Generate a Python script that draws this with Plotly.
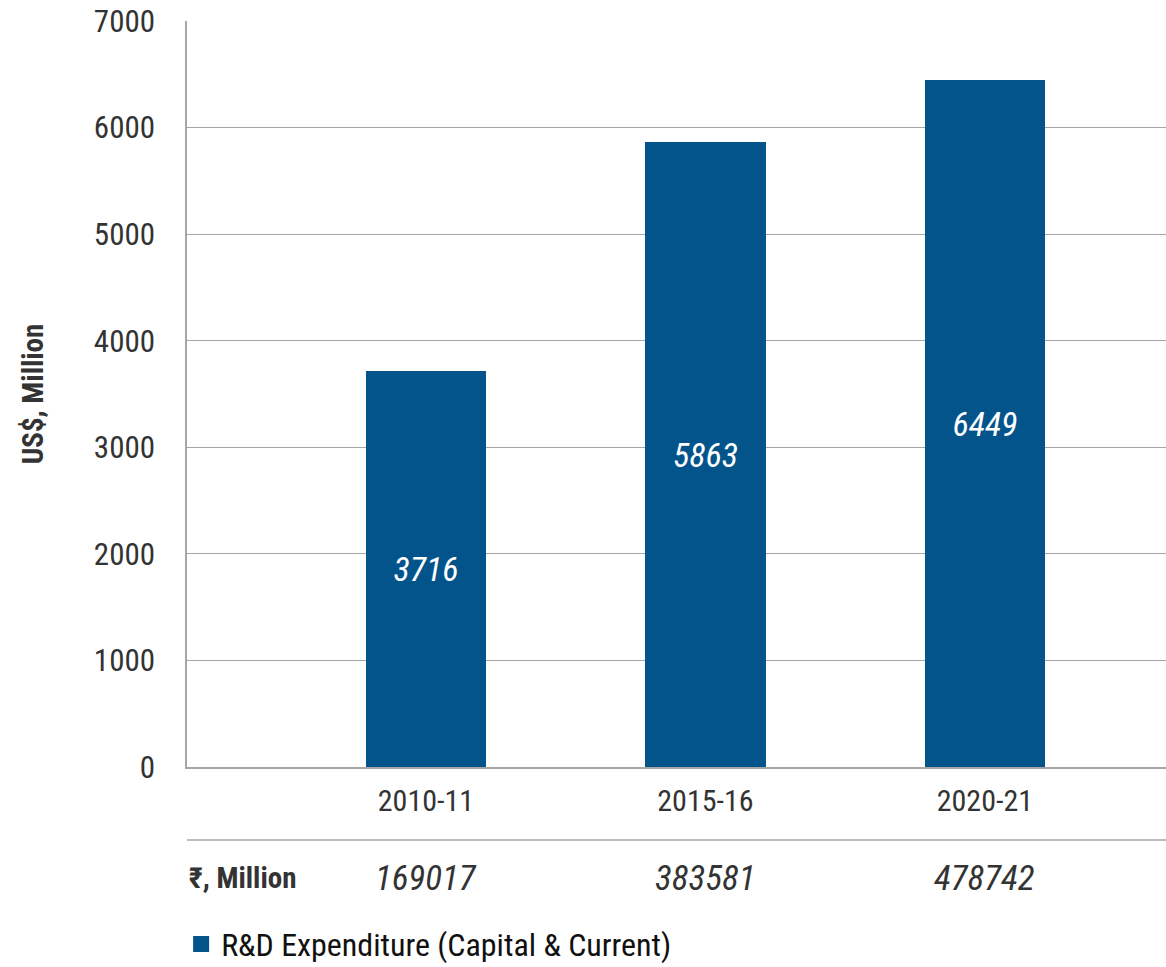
import plotly.graph_objects as go

categories = ["2010-11", "2015-16", "2020-21"]
usd_million = [3716, 5863, 6449]
inr_million = [169017, 383581, 478742]
y_ticks = [0, 1000, 2000, 3000, 4000, 5000, 6000, 7000]
series_name = "R&D Expenditure (Capital & Current)"
y_title = "US$, Million"
row_label = "₹, Million"

FONT = "Roboto Condensed, Liberation Sans Narrow, DejaVu Sans Condensed, sans-serif"
TXT = "#333333"
BAR = "#04548C"
GRID = "#A6A6A6"

fig = go.Figure()
fig.add_trace(go.Bar(
    x=categories, y=usd_million, name=series_name,
    marker=dict(color=BAR, line=dict(width=0)),
    width=0.43,
    text=[str(v) for v in usd_million],
    textposition="inside", insidetextanchor="middle",
    textfont=dict(family=FONT, size=34, color="white", style="italic"),
    showlegend=False,
))
# legend entry
fig.add_trace(go.Scatter(
    x=[None], y=[None], mode="markers", name=series_name,
    marker=dict(symbol="square", size=20, color=BAR),
    showlegend=True, hoverinfo="skip",
))

annotations = [
    dict(text=f"<b>{y_title}</b>", xref="paper", yref="paper",
         x=-0.157, y=0.5, textangle=-90, showarrow=False,
         xanchor="center", yanchor="middle",
         font=dict(family=FONT, size=29, color=TXT)),
    dict(text=f"<b>{row_label}</b>", xref="paper", yref="paper",
         x=0, y=-0.1488, showarrow=False, xanchor="left", yanchor="middle",
         font=dict(family=FONT, size=29, color=TXT)),
]
for c, v in zip(categories, inr_million):
    annotations.append(dict(
        text=str(v), xref="x", yref="paper", x=c, y=-0.1488,
        showarrow=False, xanchor="center", yanchor="middle",
        font=dict(family=FONT, size=35, color=TXT, style="italic")))

fig.update_layout(
    width=1166, height=967,
    margin=dict(l=187, r=0, t=21, b=200, autoexpand=False),
    paper_bgcolor="white", plot_bgcolor="white",
    font=dict(family=FONT, color=TXT),
    xaxis=dict(
        type="category", range=[-0.855, 2.648],
        showgrid=False, showline=True, linecolor=GRID, linewidth=1.5,
        ticks="", tickfont=dict(family=FONT, size=30, color=TXT),
        ticklabelstandoff=6, zeroline=False,
    ),
    yaxis=dict(
        range=[0, 7000], tickvals=y_ticks,
        showgrid=True, gridcolor=GRID, gridwidth=1.2,
        showline=True, linecolor=GRID, linewidth=1.5,
        ticks="", tickfont=dict(family=FONT, size=31, color=TXT),
        ticklabelstandoff=24, zeroline=False,
    ),
    shapes=[dict(type="line", xref="paper", yref="paper",
                 x0=0, x1=1, y0=-0.0979, y1=-0.0979,
                 line=dict(color=GRID, width=1.5))],
    annotations=annotations,
    legend=dict(orientation="h", x=-0.006, y=-0.2375, xanchor="left", yanchor="middle",
                font=dict(family=FONT, size=32, color="#111111"),
                itemsizing="trace", bgcolor="rgba(0,0,0,0)", borderwidth=0),
    bargap=0,
)

fig.write_html("out.html", config={"displayModeBar": False},
               post_script="document.body.style.margin='0';document.body.style.overflow='hidden';")
